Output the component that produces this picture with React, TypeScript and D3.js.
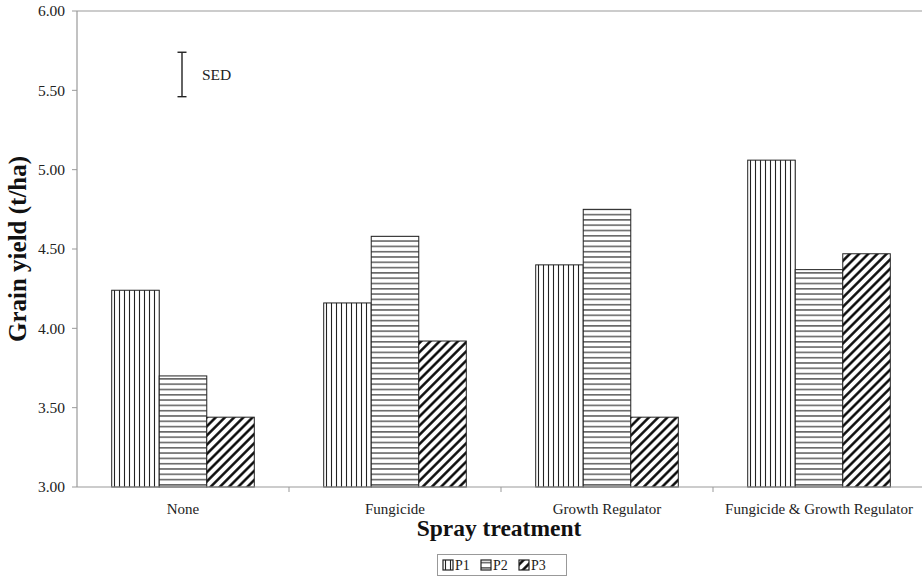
import React from 'react'
import * as d3 from 'd3'

// data
const categories = ['None', 'Fungicide', 'Growth Regulator', 'Fungicide & Growth Regulator']
const seriesNames = ['P1', 'P2', 'P3']
const p1 = [4.24, 4.16, 4.40, 5.06]
const p2 = [3.70, 4.58, 4.75, 4.37]
const p3 = [3.44, 3.92, 3.44, 4.47]
const yTicks = [3.0, 3.5, 4.0, 4.5, 5.0, 5.5, 6.0]
const sedCenter = 5.60
const sedValue = 0.28

const series = [p1, p2, p3]
const patternIds = ['pat-vert', 'pat-horiz', 'pat-diag']

export default function App() {
	const width = 922
	const height = 577
	const left = 77
	const top = 11
	const bottom = 487
	const font = '"Liberation Serif", "Times New Roman", serif'

	const x0 = d3.scaleBand().domain(categories).range([left, 925])
	const x1 = d3.scaleBand().domain(seriesNames).range([0, x0.bandwidth()]).paddingOuter(0.73)
	const y = d3.scaleLinear().domain([3, 6]).range([bottom, top])
	const fmt = d3.format('.2f')

	const sedX = x0('None') + x0.bandwidth() / 2 - 1

	return (
		<svg width={width} height={height} style={{ position: 'absolute', left: 0, top: 0, background: '#fff' }} fontFamily={font}>
			<defs>
				<pattern id="pat-vert" patternUnits="userSpaceOnUse" width={5} height={5}>
					<rect width={5} height={5} fill="#fff" />
					<line x1={2.5} y1={0} x2={2.5} y2={5} stroke="#222" strokeWidth={1.1} />
				</pattern>
				<pattern id="pat-horiz" patternUnits="userSpaceOnUse" width={5} height={5.3}>
					<rect width={5} height={5.3} fill="#fff" />
					<line x1={0} y1={2.6} x2={5} y2={2.6} stroke="#222" strokeWidth={1.1} />
				</pattern>
				<pattern id="pat-diag" patternUnits="userSpaceOnUse" width={6.5} height={6.5} patternTransform="rotate(45)">
					<rect width={6.5} height={6.5} fill="#fff" />
					<line x1={3.25} y1={0} x2={3.25} y2={6.5} stroke="#000" strokeWidth={2.4} />
				</pattern>
			</defs>

			{/* frame */}
			<line x1={left} y1={top} x2={width} y2={top} stroke="#999" strokeWidth={1.2} />
			<line x1={left} y1={top} x2={left} y2={bottom} stroke="#999" strokeWidth={1.2} />

			{/* y ticks */}
			{yTicks.map(t => (
				<g key={t}>
					<line x1={left - 5} x2={left} y1={y(t)} y2={y(t)} stroke="#999" />
					<text x={left - 12} y={y(t)} dy="0.35em" textAnchor="end" fontSize={15.5} fill="#222">{fmt(t)}</text>
				</g>
			))}

			{/* bars */}
			{categories.map((c, i) => (
				<g key={c} transform={`translate(${x0(c)},0)`}>
					{series.map((s, j) => (
						<rect key={j} x={x1(seriesNames[j])} y={y(s[i])} width={x1.bandwidth()} height={bottom - y(s[i])}
							fill={`url(#${patternIds[j]})`} stroke="#222" strokeWidth={1} />
					))}
				</g>
			))}

			{/* x axis */}
			<line x1={left} y1={bottom} x2={width} y2={bottom} stroke="#999" strokeWidth={1.2} />
			{categories.map((c, i) => (
				<g key={c}>
					{i > 0 && <line x1={x0(c)} x2={x0(c)} y1={bottom} y2={bottom + 5} stroke="#999" />}
					<text x={x0(c) + x0.bandwidth() / 2} y={514} textAnchor="middle" fontSize={15} fill="#222">{c}</text>
				</g>
			))}

			{/* SED bar */}
			<g stroke="#222" strokeWidth={1.4}>
				<line x1={sedX} x2={sedX} y1={y(sedCenter + sedValue / 2)} y2={y(sedCenter - sedValue / 2)} />
				<line x1={sedX - 4.5} x2={sedX + 4.5} y1={y(sedCenter + sedValue / 2)} y2={y(sedCenter + sedValue / 2)} />
				<line x1={sedX - 4.5} x2={sedX + 4.5} y1={y(sedCenter - sedValue / 2)} y2={y(sedCenter - sedValue / 2)} />
			</g>
			<text x={sedX + 20} y={y(sedCenter)} dy="0.35em" fontSize={15.5} fill="#222">SED</text>

			{/* axis titles */}
			<text transform={`translate(26,${(top + bottom) / 2}) rotate(-90)`} textAnchor="middle" fontSize={25} fontWeight="bold" fill="#111">Grain yield (t/ha)</text>
			<text x={499} y={536} textAnchor="middle" fontSize={23.5} fontWeight="bold" fill="#111">Spray treatment</text>

			{/* legend */}
			<rect x={437.5} y={554.5} width={129} height={21} fill="#fff" stroke="#999" />
			{seriesNames.map((n, j) => (
				<g key={n} transform={`translate(${443 + j * 38},560)`}>
					<rect width={10} height={10} fill={`url(#${patternIds[j]})`} stroke="#222" strokeWidth={1.2} />
					<text x={12} y={10} fontSize={14} fill="#222">{n}</text>
				</g>
			))}
		</svg>
	)
}
